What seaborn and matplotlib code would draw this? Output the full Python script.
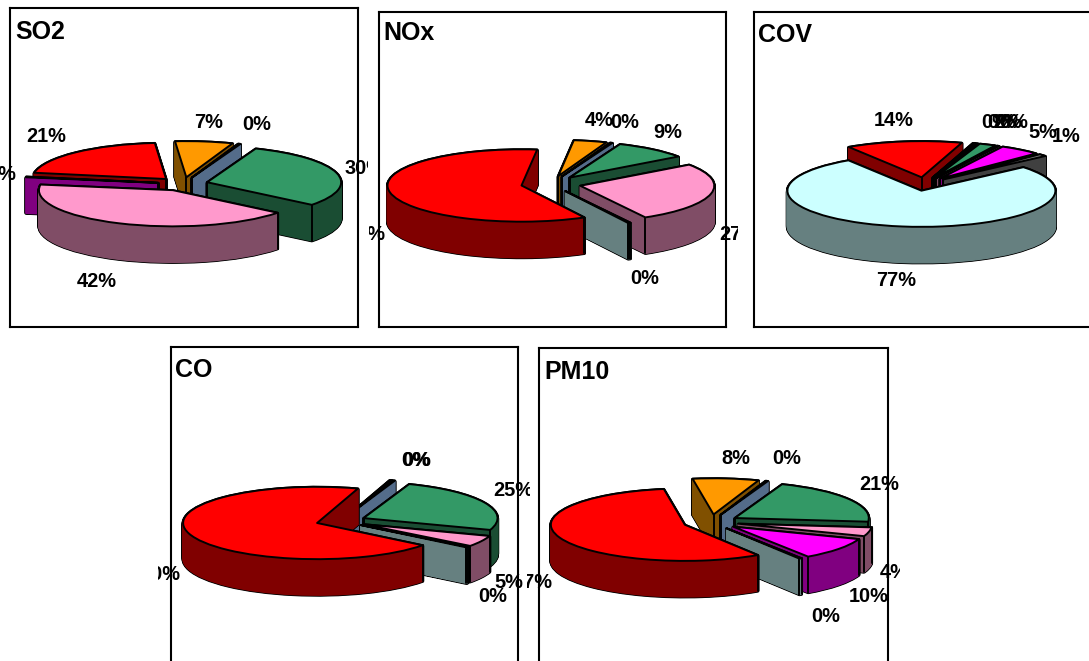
import numpy as np
import seaborn as sns
import matplotlib
matplotlib.use("Agg")
import matplotlib.pyplot as plt
from matplotlib.patches import Wedge
from matplotlib.transforms import Bbox

W, H = 1089, 661
SQUASH = 0.27
RADIUS = 134
DEPTH = 36

sns.set_theme(style="white")
plt.rcParams["font.family"] = ["Liberation Sans", "DejaVu Sans"]

# slices, clockwise. 0.3 stands for the slices printed as 0%, 0 means not in that chart
so2 = [21, 7, 0.3, 30, 42, 0.3, 0, 0]
nox = [60, 4, 0.3, 9, 27, 0, 0, 0.3]
cov = [14, 0.3, 0.3, 2, 0.3, 5, 1, 77]
co = [70, 0.3, 0.3, 25, 5, 0, 0, 0.3]
pm10 = [57, 8, 0.3, 21, 4, 10, 0, 0.3]

top_colors = sns.color_palette(["#FF0000", "#FF9900", "#5F7A99", "#339966", "#FF99CC", "#FF00FF", "#808080", "#CCFFFF"])
side_colors = sns.color_palette(["#800000", "#805000", "#546C8A", "#1A4D33", "#804D66", "#800080", "#404040", "#668080"])

panels = [
    dict(title="SO2", values=so2, box=(10, 8, 348, 319), title_xy=(15, 32), center=(183, 184), start=170, explode=25,
         order=[0, 1, 2, 3, 5, 4], clip=(0, 368),
         label_xy={0: (46, 136), 1: (209, 123), 2: (257, 124), 3: (365, 168), 4: (97, 282), 5: (2, 174)}),
    dict(title="NOx", values=nox, box=(379, 12, 347, 315), title_xy=(383, 33), center=(551, 184), start=-62, explode=30,
         order=[1, 2, 3, 4, 7, 0], clip=(369, 738),
         label_xy={0: (365, 234), 1: (599, 121), 2: (625, 122), 3: (668, 132), 4: (739, 234), 7: (645, 278)}),
    dict(title="COV", values=cov, box=(754, 12, 346, 315), title_xy=(758, 35), center=(925, 184), start=123, explode=25,
         order=[0, 1, 2, 3, 4, 5, 6, 7], clip=(754, 1089),
         label_xy={0: (894, 121), 1: (996, 122), 2: (1002, 122), 3: (1008, 122), 4: (1014, 122),
                   5: (1043, 132), 6: (1066, 136), 7: (896, 281)}),
    dict(title="CO", values=co, box=(171, 347, 347, 333), title_xy=(175, 370), center=(341, 521), start=-38, explode=25,
         order=[1, 2, 3, 4, 7, 0], clip=(158, 530),
         label_xy={0: (160, 574), 1: (416, 460), 2: (417, 460), 3: (513, 491), 4: (509, 583), 7: (493, 596)}),
    dict(title="PM10", values=pm10, box=(539, 348, 349, 333), title_xy=(544, 372), center=(711, 522), start=-57, explode=28,
         order=[1, 2, 3, 4, 5, 7, 0], clip=(527, 900),
         label_xy={0: (532, 582), 1: (736, 458), 2: (787, 459), 3: (879, 484), 4: (894, 573), 5: (869, 597), 7: (826, 616)}),
]

fig = plt.figure(figsize=(W / 100, H / 100), dpi=100, facecolor="white")

for p in panels:
    x, y, w, h = p["box"]
    ax = fig.add_axes([x / W, 1 - (y + h) / H, w / W, h / H])
    keep = [i for i, v in enumerate(p["values"]) if v > 0]
    vals = [p["values"][i] for i in keep]
    cx, cy = p["center"]
    wedges, _ = ax.pie(vals, explode=[p["explode"]] * len(vals), startangle=p["start"], counterclock=False,
                       colors=[top_colors[i] for i in keep], radius=RADIUS, center=(cx, -cy / SQUASH),
                       frame=True, wedgeprops=dict(edgecolor="black", linewidth=1.4, joinstyle="round"))
    by_cat = dict(zip(keep, wedges))
    for rank, cat in enumerate(p["order"]):
        wd = by_cat[cat]
        z = 10 + rank * 3
        wd.set_zorder(z + 2)
        (wx, wy), r, t1, t2 = wd.center, wd.r, wd.theta1, wd.theta2
        steps = np.arange(0.5, DEPTH + 0.5, 0.5)
        for d in steps:
            ax.add_patch(Wedge((wx, wy - d / SQUASH), r, t1, t2, facecolor="black", edgecolor="black",
                               linewidth=2.2, joinstyle="round", zorder=z))
        for d in steps:
            ax.add_patch(Wedge((wx, wy - d / SQUASH), r, t1, t2, facecolor=side_colors[cat],
                               edgecolor=side_colors[cat], linewidth=1.0, joinstyle="round", zorder=z + 0.1))
        # vertical edges of the block
        drop = DEPTH / SQUASH
        for t in (t1, t2):
            if np.sin(np.radians(t)) < 0:
                px = wx + r * np.cos(np.radians(t))
                py = wy + r * np.sin(np.radians(t))
                ax.plot([px, px], [py, py - drop], color="black", lw=1.4, zorder=z + 1)
        if np.sin(np.radians((t1 + t2) / 2)) > 0 and t2 - t1 < 180:
            ax.plot([wx, wx], [wy, wy - drop], color="black", lw=1.4, zorder=z + 1)
    ax.set_aspect("auto")
    ax.set_xlim(x, x + w)
    ax.set_ylim(-(y + h) / SQUASH, -y / SQUASH)
    ax.set_xticks([])
    ax.set_yticks([])
    for s in ax.spines.values():
        s.set_visible(True)
        s.set_color("black")
        s.set_linewidth(1.5)
        s.set_zorder(60)

    fig.text(p["title_xy"][0] / W, 1 - p["title_xy"][1] / H, p["title"], fontsize=18, fontweight="bold",
             color="black", ha="left", va="center", zorder=5)
    clip_box = Bbox.from_extents(p["clip"][0], 0, p["clip"][1], H)
    for cat, (lx, ly) in p["label_xy"].items():
        fig.text(lx / W, 1 - ly / H, f"{round(p['values'][cat])}%", fontsize=14.4, fontweight="bold",
                 color="black", ha="center", va="center", zorder=5, clip_on=True, clip_box=clip_box)

fig.savefig("out.png", dpi=100)
